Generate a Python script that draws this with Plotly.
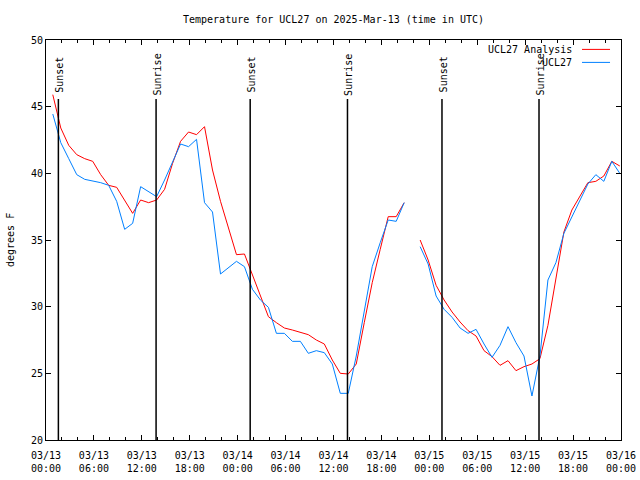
import pandas as pd
import plotly.graph_objects as go

# Hourly sample times (UTC)
times = pd.date_range("2025-03-13 00:51", periods=72, freq="h")

analysis = [45.9, 43.4, 42.1, 41.4, 41.1, 40.9, 39.9, 39.1, 38.95, 38.0,
            37.0, 38.0, 37.8, 38.0, 38.8, 40.75, 42.4, 43.1, 42.9, 43.5,
            40.25, 37.9, 35.9, 33.9, 33.95, 32.4, 30.7, 29.25, 28.8, 28.4,
            28.25, 28.1, 27.9, 27.5, 27.2, 26.0, 25.0, 24.95, 25.7, 28.8,
            31.8, 34.3, 36.75, 36.75, 37.8, None, 35.0, 33.5, 31.6, 30.5,
            29.6, 28.85, 28.2, 27.8, 26.7, 26.25, 25.6, 25.95, 25.2, 25.5,
            25.7, 26.1, 28.6, 32.0, 35.6, 37.25, 38.25, 39.3, 39.4, 39.8,
            40.9, 40.55]

observed = [44.45, 42.3, 41.1, 39.9, 39.55, 39.45, 39.3, 39.1, 37.9, 35.8,
            36.25, 39.0, 38.6, 38.25, 39.5, 40.9, 42.2, 42.0, 42.55, 37.8,
            37.1, 32.45, 32.9, 33.4, 33.0, 31.3, 30.5, 29.95, 28.0, 28.0,
            27.4, 27.4, 26.5, 26.7, 26.55, 25.7, 23.5, 23.5, 26.3, 29.5,
            33.0, 34.8, 36.5, 36.4, 37.8, None, 34.5, 33.2, 30.8, 29.8,
            29.2, 28.4, 28.0, 28.3, 27.2, 26.2, 27.1, 28.5, 27.3, 26.3,
            23.3, 26.3, 32.0, 33.3, 35.5, 36.7, 38.0, 39.2, 39.9, 39.4,
            40.9, 40.0]

sun_times = ["2025-03-13 01:33", "2025-03-13 13:47", "2025-03-14 01:34",
             "2025-03-14 13:45", "2025-03-15 01:35", "2025-03-15 13:44"]
sun_labels = ["Sunset", "Sunrise", "Sunset", "Sunrise", "Sunset", "Sunrise"]

x_tickvals = list(pd.date_range("2025-03-13 00:00", "2025-03-16 00:00", freq="6h"))
x_ticktext = [f"{t:%m/%d}<br>{t:%H:%M}" for t in x_tickvals]
y_tickvals = [20, 25, 30, 35, 40, 45, 50]

series_names = ["UCL27 Analysis", "UCL27"]
series_colors = ["#ff0000", "#0080ff"]

FONT = "DejaVu Sans Mono"

W, H = 640, 480
ML, MT, MR, MB = 46, 40, 19, 40

fig = go.Figure()
fig.add_trace(go.Scatter(x=times, y=analysis, mode="lines", name=series_names[0],
                         line=dict(color=series_colors[0], width=1),
                         connectgaps=False, showlegend=False))
fig.add_trace(go.Scatter(x=times, y=observed, mode="lines", name=series_names[1],
                         line=dict(color=series_colors[1], width=1),
                         connectgaps=False, showlegend=False))

for t, lab in zip(sun_times, sun_labels):
    fig.add_shape(type="line", xref="x", yref="paper", x0=t, x1=t, y0=0, y1=0.8525,
                  line=dict(color="black", width=1.5))
    fig.add_annotation(x=t, y=0.914, xref="x", yref="paper", text=lab,
                       textangle=-90, showarrow=False, xshift=1,
                       xanchor="center", yanchor="middle",
                       font=dict(family=FONT, size=10, color="black"))

# Legend (text on left, line sample on right, gnuplot style)
leg_y = [0.9765, 0.9440]
for name, col, yy in zip(series_names, series_colors, leg_y):
    fig.add_annotation(x=0.9183, y=yy, xref="paper", yref="paper", text=name,
                       xanchor="right", yanchor="middle", showarrow=False,
                       font=dict(family=FONT, size=10, color="black"))
    fig.add_shape(type="line", xref="paper", yref="paper", x0=0.9322, x1=0.9809,
                  y0=yy, y1=yy, line=dict(color=col, width=1))

fig.add_annotation(x=-0.0626, y=0.5, xref="paper", yref="paper", text="degrees F",
                   textangle=-90, showarrow=False, xanchor="center", yanchor="middle",
                   font=dict(family=FONT, size=10, color="black"))

fig.update_layout(
    width=W, height=H,
    margin=dict(l=ML, r=MR, t=MT, b=MB, autoexpand=False),
    paper_bgcolor="white", plot_bgcolor="white",
    font=dict(family=FONT, size=10, color="black"),
    title=dict(text="Temperature for UCL27 on 2025-Mar-13 (time in UTC)",
               x=0.5, xref="paper", xanchor="center",
               y=1 - 19 / H, yref="container", yanchor="middle",
               font=dict(family=FONT, size=10, color="black")),
    showlegend=False,
    hovermode=False,
)
fig.update_xaxes(
    range=["2025-03-13 00:00", "2025-03-16 00:00"],
    tickvals=x_tickvals, ticktext=x_ticktext,
    ticks="inside", ticklen=5, tickcolor="black", tickwidth=1,
    ticklabelstandoff=6,
    minor=dict(dtick=2 * 3600000, ticks="inside", ticklen=3, tickcolor="black", showgrid=False),
    showline=True, linecolor="black", linewidth=1, mirror="allticks",
    showgrid=False, zeroline=False, automargin=False,
    tickfont=dict(family=FONT, size=10, color="black"),
)
fig.update_yaxes(
    range=[20, 50], tickvals=y_tickvals,
    ticks="inside", ticklen=5, tickcolor="black", tickwidth=1,
    showline=True, linecolor="black", linewidth=1, mirror="allticks",
    showgrid=False, zeroline=False, automargin=False,
    tickfont=dict(family=FONT, size=10, color="black"),
)

# Remove the browser's default 8px body margin so the 640x480 figure fills the window.
fig.write_html("out.html",
               config={"displayModeBar": False, "staticPlot": True},
               post_script="document.body.style.margin='0px';document.body.style.overflow='hidden';")
